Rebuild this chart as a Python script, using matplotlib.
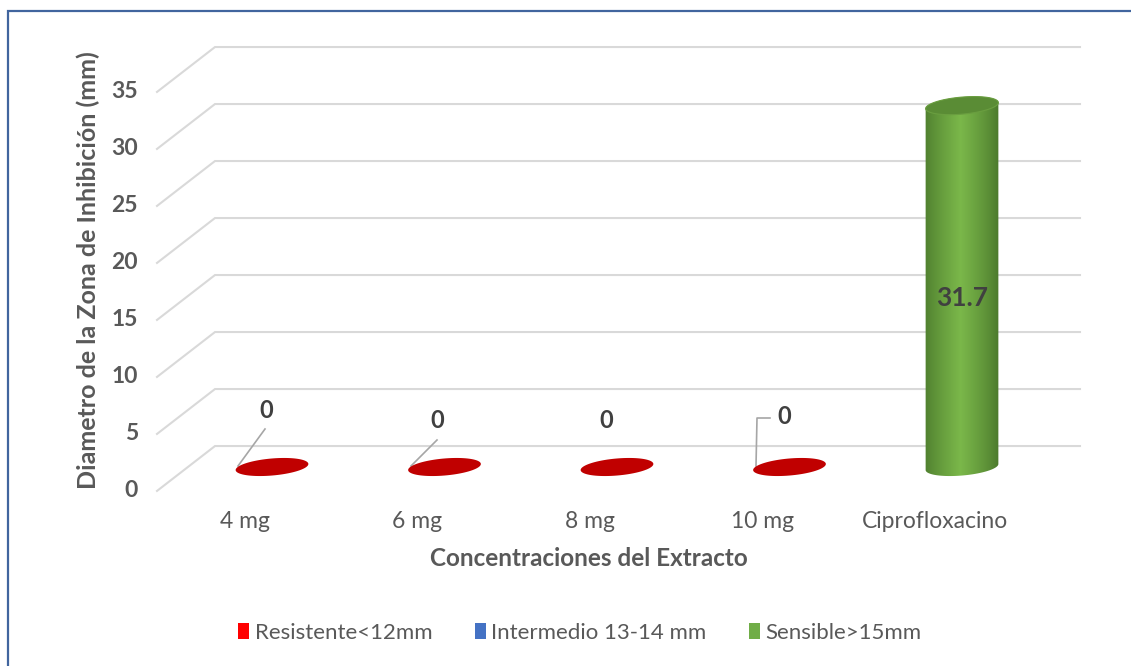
import numpy as np
import matplotlib.pyplot as plt
from matplotlib.patches import Rectangle, Patch, Polygon, PathPatch
from matplotlib.path import Path

plt.rcParams['font.family'] = ['Lato', 'DejaVu Sans']

# ── Data ─────────────────────────────────────────────────────────────────────
categories = ['4 mg', '6 mg', '8 mg', '10 mg', 'Ciprofloxacino']
halos = [0, 0, 0, 0, 31.7]
bar_colors = ['#C00000', '#C00000', '#C00000', '#C00000', '#70AD47']
yticks = [0, 5, 10, 15, 20, 25, 30, 35]
legend_labels = ['Resistente<12mm', 'Intermedio 13-14 mm', 'Sensible>15mm']
legend_colors = ['#FF0000', '#4472C4', '#70AD47']

# ── Layout (pixel mapping of the pseudo-3D frame) ────────────────────────────
W, H = 1131, 666
X0, STEP = 272, 172.5      # pixel x of first category, pixels per category
Y0, UNIT = 467, 11.4       # pixel y of value 0, pixels per mm

def cx(px):
    return (px - X0) / STEP

def vy(py):
    return (Y0 - py) / UNIT

FRONT_X, FRONT_DY = cx(157), -2.1
BACK_X, BACK_DY = cx(215), 1.84
BACK_RIGHT = cx(1080)
BAR_PX, CAP_PX, TILT = 73, 17, np.radians(5)
TXT = '#595959'


def disc(xc, v, start=0, stop=2 * np.pi, n=80):
    """Tilted ellipse outline (perspective cap) in data coordinates."""
    t = np.linspace(start, stop, n)
    px = BAR_PX / 2 * np.cos(t)
    py = CAP_PX / 2 * np.sin(t)
    rx = px * np.cos(TILT) - py * np.sin(TILT)
    ry = px * np.sin(TILT) + py * np.cos(TILT)
    return np.column_stack([xc + rx / STEP, v + ry / UNIT])


fig = plt.figure(figsize=(W / 100, H / 100), dpi=100)
ax = fig.add_axes([0, 0, 1, 1])
ax.set_xlim(cx(0), cx(W))
ax.set_ylim(vy(H), vy(0))
ax.axis('off')

# chart border
ax.add_patch(Rectangle((cx(8), vy(1000)), cx(2000) - cx(8), vy(11) - vy(1000),
                       fill=False, ec='#41659E', lw=1.6, zorder=0))

# gridlines: front edge -> back wall
for v in yticks:
    ax.plot([FRONT_X, BACK_X, BACK_RIGHT],
            [v + FRONT_DY, v + BACK_DY, v + BACK_DY],
            color='#D9D9D9', lw=1.5, zorder=1, solid_joinstyle='miter')
    ax.text(cx(138), v + FRONT_DY, str(v), ha='right', va='center',
            fontsize=16.5, fontweight='bold', color=TXT)

# bars
for i, (v, c) in enumerate(zip(halos, bar_colors)):
    if v == 0:
        ax.add_patch(Polygon(disc(i, 0), fc=c, ec='none', zorder=3))
        continue
    # cylinder body with horizontal shading, clipped to its outline
    verts = np.vstack([disc(i, 0, np.pi, 2 * np.pi), disc(i, v, 0, np.pi)])
    body = Path(np.vstack([verts, verts[:1]]), closed=True)
    s = np.linspace(0, 1, 200)
    shade = np.clip(1 - np.abs(s - 0.48) / 0.52, 0, 1) ** 0.8
    dark, light = np.array([0.29, 0.47, 0.17]), np.array([0.48, 0.72, 0.29])
    grad = dark + (light - dark) * shade[:, None]
    half = BAR_PX / 2 / STEP
    im = ax.imshow(grad[None, :, :], extent=[i - half, i + half, -3, v + 3],
                   aspect='auto', zorder=3, interpolation='bilinear')
    clip = PathPatch(body, transform=ax.transData, fc='none', ec='none')
    ax.add_patch(clip)
    im.set_clip_path(clip)
    ax.add_patch(Polygon(disc(i, v), fc='#5A8C35', ec='#6A9E40', lw=0.8,
                         zorder=4))
    ax.text(i, v / 2 + FRONT_DY / 2, f'{v}', ha='center', va='center',
            fontsize=19, fontweight='bold', color='#404040', zorder=5)

# data labels for the zero bars, with leader lines
zero_labels = [(cx(266), vy(411)), (cx(437), vy(420)),
               (cx(606), vy(420)), (cx(784), vy(417))]
for (lx, ly) in zero_labels:
    ax.text(lx, ly, '0', ha='center', va='center', fontsize=17,
            fontweight='bold', color='#404040', zorder=5)
lead = dict(color='#A6A6A6', lw=1.2, zorder=2)
ax.plot([cx(238), cx(265)], [vy(466), vy(429)], **lead)
ax.plot([cx(411), cx(437)], [vy(466), vy(440)], **lead)
ax.plot([cx(756), cx(757), cx(770)], [vy(466), vy(418), vy(418)], **lead)

# category labels on the front plane
for i, name in enumerate(categories):
    ax.text(i + cx(245), vy(521), name, ha='center', va='center',
            fontsize=16.5, color=TXT)

ax.text(cx(589), vy(558), 'Concentraciones del Extracto', ha='center',
        va='center', fontsize=17.5, fontweight='bold', color=TXT)
ax.text(cx(88), vy(270), 'Diametro de la Zona de Inhibición (mm)',
        ha='center', va='center', rotation=90, fontsize=18,
        fontweight='bold', color=TXT)

handles = [Patch(fc=c, ec='none') for c in legend_colors]
fig.legend(handles, legend_labels, loc='center', ncol=3, frameon=False,
           bbox_to_anchor=(580 / W, 1 - 633 / H), fontsize=16,
           handlelength=0.5, handleheight=0.7, handletextpad=0.25,
           columnspacing=1.9, labelcolor=TXT)

fig.savefig('out.png', dpi=100)
